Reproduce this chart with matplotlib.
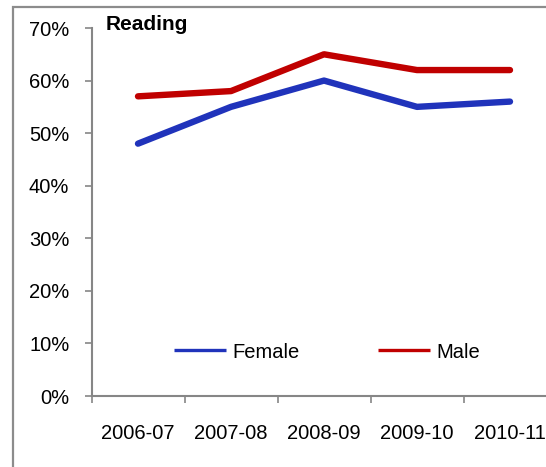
import matplotlib
matplotlib.use("Agg")
import matplotlib.pyplot as plt
from matplotlib.patches import Rectangle
from matplotlib.ticker import FuncFormatter, FixedLocator

plt.rcParams['font.family'] = ['Liberation Sans', 'DejaVu Sans']

categories = ["2006-07", "2007-08", "2008-09", "2009-10", "2010-11"]
female = [48, 55, 60, 55, 56]
male = [57, 58, 65, 62, 62]

W, H = 546, 467
FS = 14.5
fig = plt.figure(figsize=(W/100, H/100), dpi=100)
ax = fig.add_axes([91.5/W, 1-396/H, 1-91.5/W, (396-28)/H])

x = list(range(len(categories)))
ax.plot(x, female, color="#2033BB", lw=4.6, solid_capstyle="round", solid_joinstyle="round", label="Female")
ax.plot(x, male, color="#C00000", lw=4.6, solid_capstyle="round", solid_joinstyle="round", label="Male")

ax.set_ylim(0, 70)
ax.set_yticks(range(0, 71, 10))
ax.yaxis.set_major_formatter(FuncFormatter(lambda v, p: f"{int(v)}%"))
ax.set_xlim(-0.5, (W-138)/93)
ax.set_xticks(x)
ax.set_xticklabels(categories)
ax.xaxis.set_minor_locator(FixedLocator([i - 0.5 for i in range(len(categories)+1)]))
ax.tick_params(axis='x', which='major', length=0, pad=20, labelsize=FS)
ax.tick_params(axis='x', which='minor', length=5, color="#868686", width=1.2)
ax.tick_params(axis='y', which='major', length=5, color="#868686", width=1.2, labelsize=FS, pad=11)

for s in ["top", "right"]:
    ax.spines[s].set_visible(False)
for s in ["left", "bottom"]:
    ax.spines[s].set_color("#868686")
    ax.spines[s].set_linewidth(1.5)

ax.text(106/W, 1-24/H, "Reading", transform=fig.transFigure, fontsize=15, fontweight="bold", va="center", ha="left")

leg = ax.legend(loc="center", bbox_to_anchor=((327-91.5)/(W-91.5), (396-352)/(396-28)), ncol=2,
                frameon=False, fontsize=FS, handlelength=2.6, handletextpad=0.3, columnspacing=3.9)
for h in leg.get_lines():
    h.set_linewidth(2.4)
    h.set_solid_capstyle("butt")

fig.patches.append(Rectangle((12.5/W, -0.1), 1.2, 1 - 6.5/H + 0.1, transform=fig.transFigure,
                             fill=False, edgecolor="#8C8C8C", lw=1.6, clip_on=False))

fig.savefig("out.png", dpi=100)
